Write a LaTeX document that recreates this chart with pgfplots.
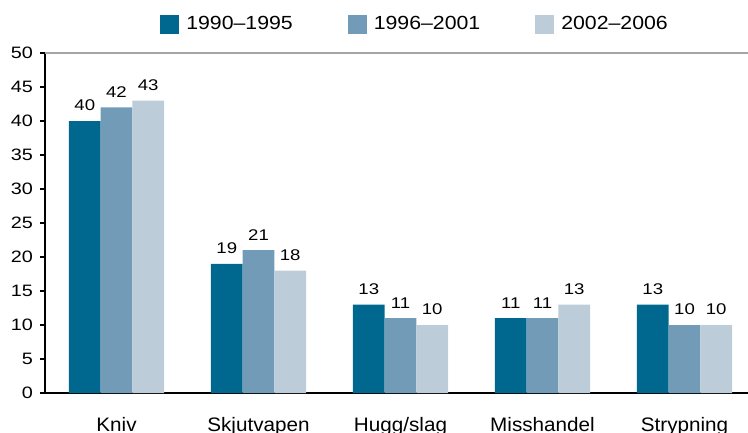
\documentclass[border=0pt]{standalone}
\usepackage{fontspec}
\setmainfont{Liberation Sans}[FakeStretch=1.06]
\newfontfamily\numfont{Liberation Sans}[FakeStretch=1.2,Ligatures=TeX]
\newfontfamily\legfont{Liberation Sans}[FakeStretch=1.12,Ligatures=TeX]
\usepackage{pgfplots}
\pgfplotsset{compat=1.18}
\definecolor{cA}{HTML}{00688F}
\definecolor{cB}{HTML}{729BB7}
\definecolor{cC}{HTML}{BDCCD9}
\definecolor{gridg}{RGB}{165,165,165}
\begin{document}
\begin{tikzpicture}
\begin{axis}[
  scale only axis,
  width=703pt, height=340pt,
  at={(0pt,0pt)}, anchor=south west,
  ybar=0pt,
  bar width=31.7pt,
  xmin=-0.5035, xmax=4.447,
  ymin=0, ymax=50,
  xtick=data,
  xticklabels={Kniv,Skjutvapen,Hugg/slag,Misshandel,Strypning},
  ytick={0,5,...,50},
  axis x line=bottom, axis y line=left,
  axis line style={-, line width=1.5pt, black},
  x tick style={draw=none},
  y tick style={line width=1.3pt, black},
  tick align=outside,
  major tick length=5pt,
  /pgf/number format/assume math mode=true,
  xticklabel style={font=\fontsize{19.5}{22}\selectfont, anchor=base, inner sep=0pt, yshift=-33pt},
  yticklabel style={font=\numfont\fontsize{16.5}{20}\selectfont, anchor=east, inner sep=0pt, xshift=-7pt},
  extra y ticks={50},
  extra y tick labels={},
  extra y tick style={grid=major, major grid style={gridg, line width=1.6pt}, y tick style={draw=none}},
  nodes near coords,
  every node near coord/.append style={font=\numfont\fontsize{15.5}{18}\selectfont, black, inner sep=0pt, anchor=south, yshift=10pt},
  legend image code/.code={\fill[#1] (0pt,-9.5pt) rectangle (19pt,9.5pt);},
  legend columns=3,
  legend style={draw=none, at={(0.525,1.085)}, anchor=center,
    font=\legfont\fontsize{19}{22}\selectfont,
    nodes={inner sep=0pt},
    /tikz/every odd column/.append style={column sep=7pt},
    /tikz/every even column/.append style={column sep=55pt}},
  clip=false,
]
\addplot[fill=cA, draw=none] coordinates {(0,40) (1,19) (2,13) (3,11) (4,13)};
\addplot[fill=cB, draw=none] coordinates {(0,42) (1,21) (2,11) (3,11) (4,10)};
\addplot[fill=cC, draw=none] coordinates {(0,43) (1,18) (2,10) (3,13) (4,10)};
\legend{1990–1995,1996–2001,2002–2006}
\end{axis}
\pgfresetboundingbox
\path (-45pt,-39pt) rectangle (703pt,393pt);
\end{tikzpicture}
\end{document}
